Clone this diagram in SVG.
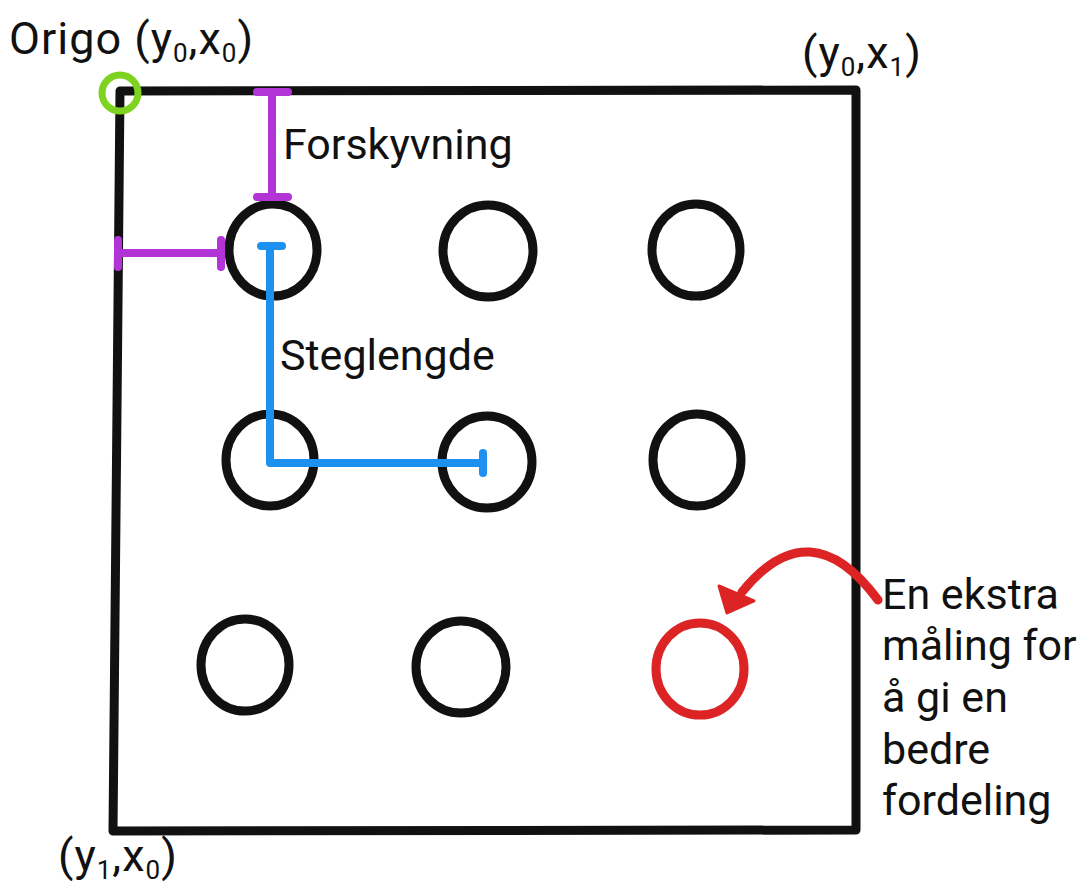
<svg xmlns="http://www.w3.org/2000/svg" width="1086" height="890" viewBox="0 0 1086 890">
<style>
  .t{font-family:Roboto,"Liberation Sans",sans-serif;font-size:43px;fill:#111}
  .c{font-size:45px;letter-spacing:1px}
  .sub{font-size:26px}
  .pt{fill:none;stroke:#111;stroke-width:9}
  .red{fill:none;stroke:#DD2424;stroke-width:9}
  .pu{fill:none;stroke:#B233D6;stroke-width:8;stroke-linecap:round}
  .bl{fill:none;stroke:#1E90F0;stroke-width:8;stroke-linecap:round;stroke-linejoin:round}
</style>
<rect width="1086" height="890" fill="#fff"/>
<g id="box">
  <path d="M120,91 L856,90 L856,830 L113,831 Z" fill="none" stroke="#111" stroke-width="9" stroke-linejoin="round"/>
</g>
<g id="origin">
  <circle cx="120" cy="93" r="18" fill="none" stroke="#7ED321" stroke-width="7"/>
</g>
<g id="points">
  <ellipse class="pt" cx="273" cy="250" rx="44" ry="46"/>
  <ellipse class="pt" cx="488" cy="251" rx="45" ry="46"/>
  <ellipse class="pt" cx="696" cy="250" rx="44" ry="46"/>
  <ellipse class="pt" cx="270" cy="460" rx="44" ry="46"/>
  <ellipse class="pt" cx="487" cy="462" rx="45" ry="46"/>
  <ellipse class="pt" cx="697" cy="460" rx="44" ry="46"/>
  <ellipse class="pt" cx="245" cy="665" rx="44" ry="46"/>
  <ellipse class="pt" cx="461" cy="667" rx="45" ry="46"/>
</g>
<g id="extra-point">
  <ellipse class="red" cx="700" cy="669" rx="44" ry="46"/>
</g>
<g id="connectors">
  <path class="pu" d="M272,92 V197 M257,92 H288 M257,197 H288"/>
  <path class="pu" d="M118,253 H221 M118,240 V267 M221,240 V267"/>
  <path class="bl" d="M270,246 V463 H483 M261,246 H282 M483,453 V473"/>
  <path d="M878,600 Q810,508 742,592" fill="none" stroke="#DD2424" stroke-width="9" stroke-linecap="round"/>
  <polygon points="719,586 754,601 727,613" fill="#DD2424" stroke="#DD2424" stroke-width="3" stroke-linejoin="round"/>
</g>
<g id="labels">
  <text class="t c" x="9" y="54">Origo (y<tspan class="sub" dy="8">0</tspan><tspan dy="-8">,x</tspan><tspan class="sub" dy="8">0</tspan><tspan dy="-8">)</tspan></text>
  <text class="t c" x="802" y="68">(y<tspan class="sub" dy="8">0</tspan><tspan dy="-8">,x</tspan><tspan class="sub" dy="8">1</tspan><tspan dy="-8">)</tspan></text>
  <text class="t c" x="58" y="871">(y<tspan class="sub" dy="8">1</tspan><tspan dy="-8">,x</tspan><tspan class="sub" dy="8">0</tspan><tspan dy="-8">)</tspan></text>
  <text class="t" x="283" y="159">Forskyvning</text>
  <text class="t" x="280" y="370">Steglengde</text>
  <text class="t" x="882" y="609">En ekstra</text>
  <text class="t" x="882" y="660">måling for</text>
  <text class="t" x="882" y="712">å gi en</text>
  <text class="t" x="882" y="764">bedre</text>
  <text class="t" x="882" y="815">fordeling</text>
</g>
</svg>
